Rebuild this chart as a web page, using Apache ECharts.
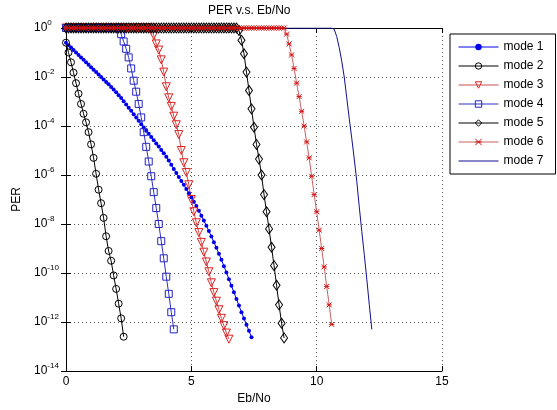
<!DOCTYPE html>
<html>
<head>
<meta charset="utf-8">
<script src="https://cdn.jsdelivr.net/npm/echarts@6/dist/echarts.min.js"></script>
<style>html,body{margin:0;padding:0;background:#fff}#chart{width:557px;height:410px}</style>
</head>
<body>
<div id="chart"></div>
<script>
// Eb/No grid (dB)
const ebNo = [
0.0,0.1,0.2,0.3,0.4,0.5,0.6,0.7,0.8,0.9,
1.0,1.1,1.2,1.3,1.4,1.5,1.6,1.7,1.8,1.9,
2.0,2.1,2.2,2.3,2.4,2.5,2.6,2.7,2.8,2.9,
3.0,3.1,3.2,3.3,3.4,3.5,3.6,3.7,3.8,3.9,
4.0,4.1,4.2,4.3,4.4,4.5,4.6,4.7,4.8,4.9,
5.0,5.1,5.2,5.3,5.4,5.5,5.6,5.7,5.8,5.9,
6.0,6.1,6.2,6.3,6.4,6.5,6.6,6.7,6.8,6.9,
7.0,7.1,7.2,7.3,7.4,7.5,7.6,7.7,7.8,7.9,
8.0,8.1,8.2,8.3,8.4,8.5,8.6,8.7,8.8,8.9,
9.0,9.1,9.2,9.3,9.4,9.5,9.6,9.7,9.8,9.9,
10.0,10.1,10.2,10.3,10.4,10.5,10.6,10.7,10.8,10.9,
11.0,11.1,11.2,11.3,11.4,11.5,11.6,11.7,11.8,11.9,
12.0,12.1,12.2
];
// log10(PER) per mode, aligned with ebNo from index 0
const mode1LogPER = [
-0.60,-0.70,-0.80,-0.90,-1.00,-1.10,-1.20,-1.30,-1.40,-1.50,
-1.60,-1.70,-1.80,-1.90,-2.00,-2.10,-2.20,-2.30,-2.41,-2.51,
-2.62,-2.74,-2.86,-2.99,-3.12,-3.25,-3.38,-3.52,-3.65,-3.79,
-3.93,-4.06,-4.19,-4.32,-4.45,-4.58,-4.71,-4.84,-4.98,-5.11,
-5.25,-5.41,-5.58,-5.75,-5.92,-6.08,-6.24,-6.40,-6.57,-6.74,
-6.91,-7.09,-7.27,-7.46,-7.66,-7.86,-8.07,-8.29,-8.51,-8.74,
-8.97,-9.21,-9.46,-9.72,-9.98,-10.25,-10.52,-10.79,-11.06,-11.33,
-11.60,-11.86,-12.11,-12.36,-12.62
];
const mode2LogPER = [
-0.60,-1.00,-1.40,-1.82,-2.25,-2.68,-3.10,-3.50,-3.85,-4.25,
-4.75,-5.30,-5.95,-6.60,-7.15,-7.75,-8.50,-9.10,-9.50,-10.10,
-10.65,-11.25,-11.85,-12.60
];
const mode3LogPER = [
0,0,0,0,0,0,0,0,0,0,
0,0,0,0,0,0,0,0,0,0,
0,0,0,0,0,0,0,0,0,0,
0,0,0,0,0,
-0.30,-0.65,-0.90,-1.30,-1.80,-2.40,-2.85,-3.20,-3.60,-3.95,
-4.35,-5.00,-5.50,-5.90,-6.40,-7.00,-7.50,-7.95,-8.35,-8.75,
-9.15,-9.55,-9.95,-10.40,-10.80,-11.15,-11.50,-11.85,-12.15,-12.45,
-12.70
];
const mode4LogPER = [
0,0,0,0,0,0,0,0,0,0,
0,0,0,0,0,0,0,0,0,0,
0,0,
-0.25,-0.55,-0.85,-1.20,-1.65,-2.15,-2.60,-3.10,-3.65,-4.25,
-4.85,-5.45,-6.05,-6.70,-7.35,-8.00,-8.70,-9.40,-10.15,-10.85,
-11.60,-12.30
];
const mode5LogPER = [
0,0,0,0,0,0,0,0,0,0,
0,0,0,0,0,0,0,0,0,0,
0,0,0,0,0,0,0,0,0,0,
0,0,0,0,0,0,0,0,0,0,
0,0,0,0,0,0,0,0,0,0,
0,0,0,0,0,0,0,0,0,0,
0,0,0,0,0,0,0,0,0,
-0.10,-0.50,-1.05,-1.80,-2.55,-3.30,-4.05,-4.75,-5.35,-6.00,
-6.80,-7.50,-8.20,-8.95,-9.70,-10.50,-11.30,-12.05,-12.65
];
const mode6LogPER = [
0,0,0,0,0,0,0,0,0,0,
0,0,0,0,0,0,0,0,0,0,
0,0,0,0,0,0,0,0,0,0,
0,0,0,0,0,0,0,0,0,0,
0,0,0,0,0,0,0,0,0,0,
0,0,0,0,0,0,0,0,0,0,
0,0,0,0,0,0,0,0,0,0,
0,0,0,0,0,0,0,0,0,0,
0,0,0,0,0,0,0,0,
-0.25,-0.65,-1.10,-1.65,-2.25,-2.80,-3.40,-4.00,-4.65,-5.30,
-6.05,-6.80,-7.50,-8.25,-9.00,-9.75,-10.55,-11.30,-12.10
];
const mode7LogPER = [
0,0,0,0,0,0,0,0,0,0,
0,0,0,0,0,0,0,0,0,0,
0,0,0,0,0,0,0,0,0,0,
0,0,0,0,0,0,0,0,0,0,
0,0,0,0,0,0,0,0,0,0,
0,0,0,0,0,0,0,0,0,0,
0,0,0,0,0,0,0,0,0,0,
0,0,0,0,0,0,0,0,0,0,
0,0,0,0,0,0,0,0,0,0,
0,0,0,0,0,0,0,0,0,0,
0,0,0,0,0,0,0,
-0.05,-0.35,-0.80,-1.35,-2.00,-2.85,-3.70,-4.50,-5.35,-6.25,
-7.30,-8.30,-9.25,-10.25,-11.30,-12.30
];
const legendNames = ['mode 1','mode 2','mode 3','mode 4','mode 5','mode 6','mode 7'];
const xTicks = [0, 5, 10, 15];
const yTickExponents = [0, -2, -4, -6, -8, -10, -12, -14];

const FONT = '"Liberation Sans", Arial, Helvetica, sans-serif';
function toData(logs) { return logs.map((e, i) => [ebNo[i], Math.pow(10, e)]); }
const hollow = 'rgba(0,0,0,0)';
const asterisk = 'path://M0,0L10,10M10,0L0,10M0,5L10,5';

const chart = echarts.init(document.getElementById('chart'), null, {renderer: 'canvas'});
const axisLine = {show: true, lineStyle: {color: '#000', width: 1}};
const gridLine = {show: true, lineStyle: {type: [1, 3], color: '#555', width: 1}};
const yLabelRich = {
  b: {fontSize: 12, lineHeight: 18, color: '#000', fontFamily: FONT},
  s: {fontSize: 8, lineHeight: 8, verticalAlign: 'top', color: '#000', fontFamily: FONT}
};

function lineSeries(name, logs, color, lineColor, symbol, size, extra) {
  return Object.assign({
    name: name, type: 'line', data: toData(logs),
    symbol: symbol, symbolSize: size, showAllSymbol: true,
    lineStyle: {color: lineColor, width: 1},
    itemStyle: {color: hollow, borderColor: color, borderWidth: 1},
    emphasis: {disabled: true}, animation: false
  }, extra || {});
}

const option = {
  backgroundColor: '#fff',
  animation: false,
  textStyle: {fontFamily: FONT},
  title: {
    text: 'PER v.s. Eb/No', left: 208, top: 5, padding: 0,
    textStyle: {fontSize: 12, fontWeight: 'normal', color: '#000', fontFamily: FONT}
  },
  legend: {
    orient: 'vertical', left: 450, top: 34,
    itemWidth: 40, itemHeight: 8, itemGap: 7,
    padding: [7, 12, 7, 8],
    borderColor: '#000', borderWidth: 1, backgroundColor: '#fff',
    lineStyle: {width: 1},
    itemStyle: {borderWidth: 1},
    textStyle: {fontSize: 12, color: '#000', fontFamily: FONT},
    data: [
      legendNames[0], legendNames[1], legendNames[2], legendNames[3], legendNames[4], legendNames[5],
      {name: legendNames[6], itemStyle: {color: hollow, borderColor: hollow, opacity: 0}}
    ]
  },
  grid: {left: 66, top: 28, width: 376, height: 348, show: false},
  xAxis: [{
    type: 'value', position: 'bottom', min: xTicks[0], max: xTicks[xTicks.length - 1], interval: 5,
    axisLine: axisLine, axisTick: {show: true, inside: true, length: 5, lineStyle: {color: '#000'}},
    axisLabel: {margin: 5, fontSize: 12, color: '#000', fontFamily: FONT},
    splitLine: gridLine,
    name: 'Eb/No', nameLocation: 'middle', nameGap: 22,
    nameTextStyle: {fontSize: 12, color: '#000', fontFamily: FONT}
  }, {
    type: 'value', position: 'top', min: xTicks[0], max: xTicks[xTicks.length - 1], interval: 5,
    axisLine: axisLine, axisTick: {show: true, inside: true, length: 5, lineStyle: {color: '#000'}},
    axisLabel: {show: false}, splitLine: {show: false}
  }],
  yAxis: [{
    type: 'log', logBase: 10, position: 'left',
    min: Math.pow(10, yTickExponents[yTickExponents.length - 1]), max: Math.pow(10, yTickExponents[0]), interval: 2,
    axisLine: axisLine, axisTick: {show: true, inside: true, length: 5, lineStyle: {color: '#000'}},
    axisLabel: {
      align: 'left', margin: 32,
      formatter: function (v) { const e = Math.round(Math.log10(v)); return '{b|10}{s|' + e + '}'; },
      rich: yLabelRich
    },
    splitLine: gridLine,
    name: 'PER', nameLocation: 'middle', nameGap: 40, nameRotate: 90,
    nameTextStyle: {fontSize: 12, color: '#000', fontFamily: FONT}
  }, {
    type: 'log', logBase: 10, position: 'right',
    min: Math.pow(10, yTickExponents[yTickExponents.length - 1]), max: Math.pow(10, yTickExponents[0]), interval: 2,
    axisLine: axisLine, axisTick: {show: true, inside: true, length: 5, lineStyle: {color: '#000'}},
    axisLabel: {show: false}, splitLine: {show: false}
  }],
  series: [
    lineSeries(legendNames[0], mode1LogPER, '#0000ee', '#0000ee', 'circle', 4,
      {itemStyle: {color: '#0000ee', borderWidth: 0}}),
    lineSeries(legendNames[1], mode2LogPER, '#000', '#000', 'circle', 7),
    lineSeries(legendNames[2], mode3LogPER, '#e02020', '#c85050', 'triangle', 8, {symbolRotate: 180}),
    lineSeries(legendNames[3], mode4LogPER, '#2424c8', '#3030c0', 'rect', 7),
    lineSeries(legendNames[4], mode5LogPER, '#000', '#000', 'diamond', [7, 10]),
    lineSeries(legendNames[5], mode6LogPER, '#d81010', '#c86060', asterisk, 5),
    lineSeries(legendNames[6], mode7LogPER, '#101090', '#101090', 'none', 4,
      {itemStyle: {color: '#101090'}})
  ]
};
chart.setOption(option);
</script>
</body>
</html>
